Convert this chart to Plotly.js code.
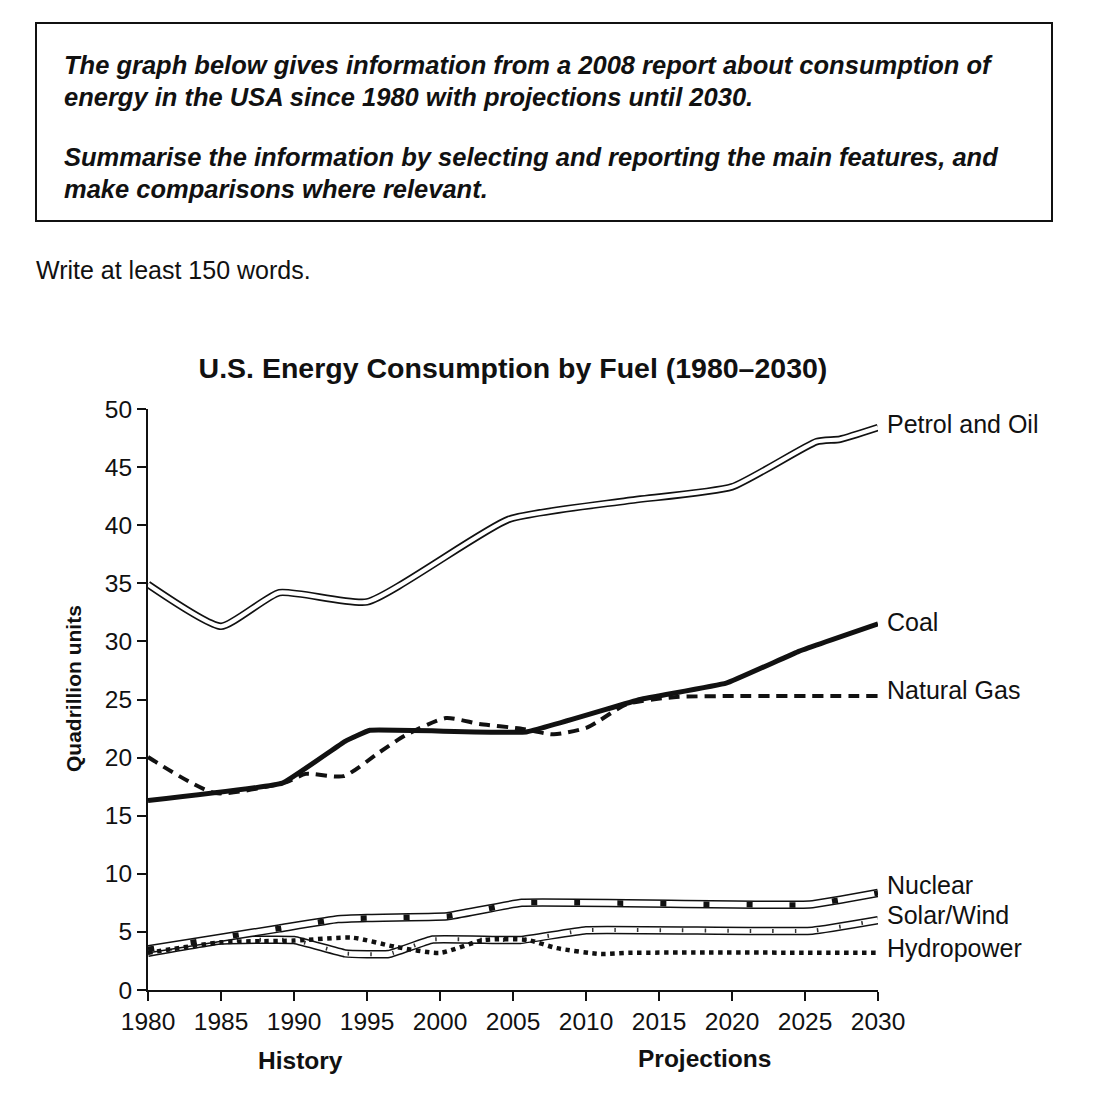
<!DOCTYPE html>
<html>
<head>
<meta charset="utf-8">
<script src="https://cdn.plot.ly/plotly-3.0.1.min.js"></script>
<style>
  html, body { margin: 0; padding: 0; background: #fff; }
  #chart { width: 1110px; height: 1108px; }
</style>
</head>
<body>
<div id="chart"></div>
<script>
// ---- Data (quadrillion units) ----
const tickYears = [1980, 1985, 1990, 1995, 2000, 2005, 2010, 2015, 2020, 2025, 2030];
const tickValues = [0, 5, 10, 15, 20, 25, 30, 35, 40, 45, 50];

const petrolYears  = [1980, 1985, 1989, 1995, 2004.7, 2012.8, 2020, 2025.8, 2027.4, 2030];
const petrolValues = [34.9, 31.3, 34.2, 33.4, 40.5, 42.1, 43.3, 47.2, 47.4, 48.4];

const coalYears  = [1980, 1989.2, 1993.5, 1995.2, 2005.9, 2013.7, 2019.6, 2024.5, 2030];
const coalValues = [16.3, 17.8, 21.4, 22.35, 22.2, 25.0, 26.4, 29.1, 31.5];

const gasYears  = [1980, 1984.6, 1989.5, 1990.8, 1993.4, 1995.9, 1997.6, 2000.4, 2002.7, 2005.5, 2007.8, 2010.1, 2012.8, 2016, 2020.5, 2030];
const gasValues = [20.05, 16.95, 17.9, 18.6, 18.4, 20.5, 21.9, 23.4, 22.9, 22.5, 22.0, 22.6, 24.6, 25.2, 25.3, 25.3];

const nuclearYears  = [1980, 1985, 1989, 1993, 1995, 2000.5, 2005.6, 2025.3, 2030];
const nuclearValues = [3.5, 4.5, 5.3, 6.1, 6.2, 6.35, 7.5, 7.35, 8.35];

const solarYears  = [1980, 1985, 1990, 1993.5, 1996.5, 1999.5, 2005.5, 2010, 2025.5, 2030];
const solarValues = [3.2, 4.25, 4.3, 3.15, 3.1, 4.35, 4.3, 5.15, 5.1, 6.0];

const hydroYears  = [1980, 1985, 1990, 1994, 1997, 2000, 2003, 2006, 2008, 2011, 2013, 2030];
const hydroValues = [3.2, 4.1, 4.25, 4.5, 3.7, 3.2, 4.3, 4.3, 3.6, 3.1, 3.2, 3.2];

const seriesLabels = ["Petrol and Oil", "Coal", "Natural Gas", "Nuclear", "Solar/Wind", "Hydropower"];

// ---- Layout helpers (page pixels -> paper coords) ----
const W = 1110, H = 1108;
const px = x => x / W;
const py = y => 1 - y / H;
const FONT = "Liberation Sans, Arial, Helvetica, sans-serif";

function line(x, y, color, width, dash, shape, smoothing) {
  return {
    x: x, y: y, type: "scatter", mode: "lines", hoverinfo: "skip", showlegend: false,
    line: { color: color, width: width, dash: dash || "solid", shape: shape || "linear", smoothing: smoothing || 0 }
  };
}

const traces = [
  // Petrol and Oil: double outline
  line(petrolYears, petrolValues, "#111", 7.5, "solid", "spline", 0.5),
  line(petrolYears, petrolValues, "#fff", 4.2, "solid", "spline", 0.5),
  // Coal
  line(coalYears, coalValues, "#111", 5, "solid", "spline", 0.25),
  // Natural Gas
  line(gasYears, gasValues, "#111", 4, "11px,7px", "spline", 0.6),
  // Solar/Wind: outlined with slashes
  line(solarYears, solarValues, "#111", 8.5, "solid", "spline", 0.3),
  line(solarYears, solarValues, "#fff", 5.5, "solid", "spline", 0.3),
  line(solarYears, solarValues, "#333", 4, "1.5px,21px", "spline", 0.3),
  // Nuclear: outlined with black blocks
  line(nuclearYears, nuclearValues, "#111", 8.5, "solid", "spline", 0.3),
  line(nuclearYears, nuclearValues, "#fff", 5.5, "solid", "spline", 0.3),
  line(nuclearYears, nuclearValues, "#111", 5.5, "6px,37px", "spline", 0.3),
  // Hydropower: dotted
  line(hydroYears, hydroValues, "#111", 4.5, "4.5px,4.5px", "spline", 0.6)
];

const labelPos = [424, 622, 690, 885, 915, 948];
const annotations = seriesLabels.map((t, i) => ({
  text: t, xref: "paper", yref: "paper", x: px(885), y: py(labelPos[i]),
  xanchor: "left", yanchor: "middle", showarrow: false,
  font: { family: FONT, size: 25, color: "#111" }
}));

const headerLines = [
  ["The graph below gives information from a 2008 report about consumption of", 65],
  ["energy in the USA since 1980 with projections until 2030.", 97],
  ["Summarise the information by selecting and reporting the main features, and", 157],
  ["make comparisons where relevant.", 189]
];
headerLines.forEach(([t, y]) => annotations.push({
  text: "<b><i>" + t + "</i></b>", xref: "paper", yref: "paper", x: px(62), y: py(y),
  xanchor: "left", yanchor: "middle", showarrow: false,
  font: { family: FONT, size: 25.5, color: "#111" }
}));

annotations.push({
  text: "Write at least 150 words.", xref: "paper", yref: "paper", x: px(34), y: py(270),
  xanchor: "left", yanchor: "middle", showarrow: false,
  font: { family: FONT, size: 25, color: "#111" }
});
annotations.push({
  text: "<b>Quadrillion units</b>", xref: "paper", yref: "paper", x: px(73), y: py(689),
  xanchor: "center", yanchor: "middle", showarrow: false, textangle: -90,
  font: { family: FONT, size: 21, color: "#111" }
});
annotations.push({
  text: "<b>History</b>", xref: "paper", yref: "paper", x: px(300), y: py(1060),
  xanchor: "center", yanchor: "middle", showarrow: false,
  font: { family: FONT, size: 24.5, color: "#111" }
});
annotations.push({
  text: "<b>Projections</b>", xref: "paper", yref: "paper", x: px(704), y: py(1058),
  xanchor: "center", yanchor: "middle", showarrow: false,
  font: { family: FONT, size: 24.5, color: "#111" }
});

const layout = {
  width: W, height: H,
  margin: { l: 0, r: 0, t: 0, b: 0 },
  paper_bgcolor: "#fff", plot_bgcolor: "#fff",
  showlegend: false,
  title: {
    text: "<b>U.S. Energy Consumption by Fuel (1980–2030)</b>",
    x: px(513), xanchor: "center", xref: "paper",
    y: py(368), yanchor: "middle", yref: "paper",
    font: { family: FONT, size: 28.5, color: "#111" }
  },
  xaxis: {
    domain: [px(148), px(878)], range: [1980, 2030],
    tickvals: tickYears, ticktext: tickYears.map(String),
    ticks: "outside", ticklen: 9, tickwidth: 2, tickcolor: "#111",
    showline: true, linewidth: 2, linecolor: "#111",
    showgrid: false, zeroline: false, fixedrange: true,
    tickfont: { family: FONT, size: 24.5, color: "#111" }
  },
  yaxis: {
    domain: [py(990), py(409)], range: [0, 50],
    tickvals: tickValues, ticktext: tickValues.map(String),
    ticks: "outside", ticklen: 9, tickwidth: 2, tickcolor: "#111",
    showline: true, linewidth: 2, linecolor: "#111",
    showgrid: false, zeroline: false, fixedrange: true,
    tickfont: { family: FONT, size: 24.5, color: "#111" }
  },
  shapes: [{
    type: "rect", xref: "paper", yref: "paper",
    x0: px(36), x1: px(1052), y0: py(221), y1: py(23),
    line: { color: "#111", width: 2 }, fillcolor: "rgba(0,0,0,0)"
  }],
  annotations: annotations
};

Plotly.newPlot("chart", traces, layout, { staticPlot: true, displayModeBar: false });
</script>
</body>
</html>
